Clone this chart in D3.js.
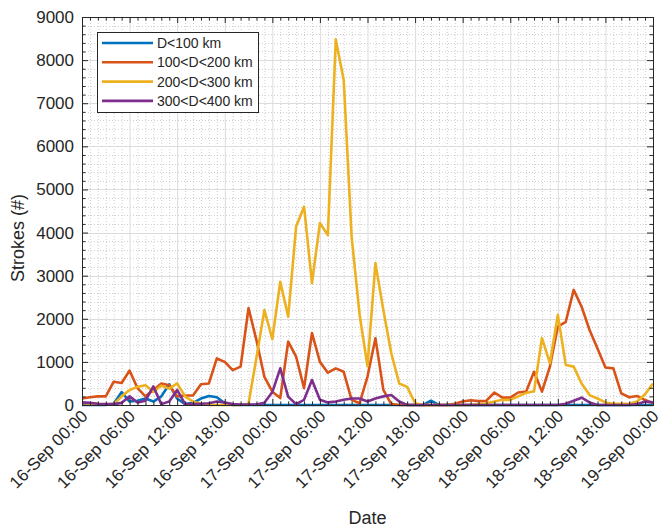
<!DOCTYPE html>
<html>
<head>
<meta charset="utf-8">
<script src="https://cdn.jsdelivr.net/npm/d3@7"></script>
<style>
  html, body { margin: 0; padding: 0; background: #fff; }
  svg { display: block; font-family: "Liberation Sans", Arial, sans-serif; }
</style>
</head>
<body>
<svg id="chart" width="665" height="528"></svg>
<script>
// ---- data (hourly, 16-Sep 00:00 .. 19-Sep 00:00) ----
const hours = d3.range(0, 73);
const seriesNames = ["D<100 km", "100<D<200 km", "200<D<300 km", "300<D<400 km"];
const seriesColors = ["#0072BD", "#D95319", "#EDB120", "#7E2F8E"];

const d100 = [0,0,0,0,30,300,80,100,150,80,200,480,150,20,50,150,210,180,40,0,
  0,0,0,0,0,0,0,0,0,0,0,0,0,0,0,0,0,0,0,0,
  0,0,0,0,100,0,0,0,0,0,0,0,0,0,0,0,0,0,0,0,
  0,0,0,0,0,0,0,0,0,0,0,0,0];
const d100_200 = [150,180,200,200,540,510,800,390,200,350,500,460,200,220,220,480,500,1080,1000,810,
  890,2250,1500,650,310,160,1470,1120,390,1670,1000,750,850,770,120,40,660,1550,350,20,
  0,0,0,0,0,0,0,30,80,110,90,100,290,170,170,290,310,770,310,890,
  1820,1930,2670,2280,1740,1310,870,850,270,180,210,115,40];
const d200_300 = [50,30,20,10,20,200,350,420,460,300,450,380,500,200,80,30,0,0,0,0,
  0,30,1100,2200,1530,2860,2050,4140,4600,2830,4220,3940,8480,7540,3900,2100,900,3290,2200,1200,
  500,420,40,0,0,0,0,0,0,0,20,40,80,120,120,200,280,320,1550,970,
  2090,930,890,500,230,150,60,30,30,30,80,250,500];
const d300_400 = [60,50,30,20,20,50,200,60,100,430,20,80,350,20,20,30,40,80,60,20,
  10,10,10,50,300,850,190,20,120,580,120,60,80,120,150,150,80,150,200,230,
  80,0,0,0,0,0,0,0,0,0,0,0,0,0,0,0,0,0,0,0,
  0,30,100,170,60,0,0,0,0,0,20,80,60];
const allSeries = [d100, d100_200, d200_300, d300_400];

const xTickHours = [0,6,12,18,24,30,36,42,48,54,60,66,72];
const xTickLabels = ["16-Sep 00:00","16-Sep 06:00","16-Sep 12:00","16-Sep 18:00",
  "17-Sep 00:00","17-Sep 06:00","17-Sep 12:00","17-Sep 18:00",
  "18-Sep 00:00","18-Sep 06:00","18-Sep 12:00","18-Sep 18:00","19-Sep 00:00"];
const yTicks = [0,1000,2000,3000,4000,5000,6000,7000,8000,9000];
const xLabel = "Date";
const yLabel = "Strokes (#)";

// ---- layout ----
const W = 665, H = 528;
const m = {left: 82, top: 17, right: 12, bottom: 123};
const pw = W - m.left - m.right, ph = H - m.top - m.bottom;
const axisColor = "#262626";

const svg = d3.select("#chart");
const g = svg.append("g").attr("transform", `translate(${m.left},${m.top})`);

const x = d3.scaleLinear().domain([0, 72]).range([0, pw]);
const y = d3.scaleLinear().domain([0, 9000]).range([ph, 0]);

// ---- grid ----
const minorX = d3.range(0, 73, 1).filter(h => h % 6 !== 0);
const minorY = d3.range(0, 9001, 200).filter(v => v % 1000 !== 0);
const grid = g.append("g");
grid.selectAll(".mgx").data(minorX).join("line")
  .attr("x1", d => x(d) + 0.5).attr("x2", d => x(d) + 0.5)
  .attr("y1", 0).attr("y2", ph)
  .attr("stroke", "#cfcfcf").attr("stroke-dasharray", "1,2").attr("stroke-width", 1);
grid.selectAll(".mgy").data(minorY).join("line")
  .attr("y1", d => Math.round(y(d)) + 0.5).attr("y2", d => Math.round(y(d)) + 0.5)
  .attr("x1", 0).attr("x2", pw)
  .attr("stroke", "#cfcfcf").attr("stroke-dasharray", "1,2").attr("stroke-width", 1);
grid.selectAll(".Mgx").data(xTickHours).join("line")
  .attr("x1", d => x(d) + 0.5).attr("x2", d => x(d) + 0.5)
  .attr("y1", 0).attr("y2", ph)
  .attr("stroke", "#dcdcdc").attr("stroke-width", 1);
grid.selectAll(".Mgy").data(yTicks).join("line")
  .attr("y1", d => Math.round(y(d)) + 0.5).attr("y2", d => Math.round(y(d)) + 0.5)
  .attr("x1", 0).attr("x2", pw)
  .attr("stroke", "#dcdcdc").attr("stroke-width", 1);

// ---- lines ----
const line = d3.line().x((d, i) => x(hours[i])).y(d => y(d));
allSeries.forEach((s, i) => {
  g.append("path").datum(s)
    .attr("d", line)
    .attr("fill", "none")
    .attr("stroke", seriesColors[i])
    .attr("stroke-width", 2.6)
    .attr("stroke-linejoin", "round");
});

// ---- axes (inside ticks, mirrored) ----
function styleAxis(sel) {
  sel.select(".domain").remove();
  sel.selectAll("line").attr("stroke", axisColor);
  sel.selectAll("text").attr("fill", axisColor);
}
const xAxisB = g.append("g").attr("transform", `translate(0,${ph})`)
  .call(d3.axisBottom(x).tickValues(xTickHours).tickSize(-6).tickFormat((d, i) => xTickLabels[i]));
styleAxis(xAxisB);
xAxisB.selectAll("text")
  .attr("font-size", 17)
  .attr("text-anchor", "end")
  .attr("transform", "translate(2,8) rotate(-45)")
  .attr("dy", "0.35em").attr("y", 0).attr("x", 0);

g.append("g").attr("transform", `translate(0,${ph})`)
  .call(d3.axisBottom(x).tickValues(minorX).tickSize(-3.5).tickFormat(""))
  .call(styleAxis);
g.append("g")
  .call(d3.axisTop(x).tickValues(xTickHours).tickSize(-6).tickFormat(""))
  .call(styleAxis);
g.append("g")
  .call(d3.axisTop(x).tickValues(minorX).tickSize(-3.5).tickFormat(""))
  .call(styleAxis);

const yAxisL = g.append("g")
  .call(d3.axisLeft(y).tickValues(yTicks).tickSize(-6).tickFormat(d3.format("d")));
styleAxis(yAxisL);
yAxisL.selectAll("text").attr("font-size", 17).attr("x", -8);
g.append("g").call(d3.axisLeft(y).tickValues(minorY).tickSize(-3.5).tickFormat("")).call(styleAxis);
g.append("g").attr("transform", `translate(${pw},0)`)
  .call(d3.axisRight(y).tickValues(yTicks).tickSize(-6).tickFormat("")).call(styleAxis);
g.append("g").attr("transform", `translate(${pw},0)`)
  .call(d3.axisRight(y).tickValues(minorY).tickSize(-3.5).tickFormat("")).call(styleAxis);

// box
g.append("rect").attr("x", 0.5).attr("y", 0.5).attr("width", pw).attr("height", ph)
  .attr("fill", "none").attr("stroke", axisColor).attr("stroke-width", 1);

// ---- labels ----
svg.append("text").attr("x", m.left + pw / 2).attr("y", 524)
  .attr("text-anchor", "middle").attr("font-size", 18).attr("fill", axisColor).text(xLabel);
svg.append("text").attr("transform", `translate(24,238) rotate(-90)`)
  .attr("text-anchor", "middle").attr("font-size", 18).attr("fill", axisColor).text(yLabel);

// ---- legend ----
const lg = svg.append("g").attr("transform", "translate(97,32)");
lg.append("rect").attr("x", 0.5).attr("y", 0.5).attr("width", 161).attr("height", 80)
  .attr("fill", "#fff").attr("stroke", axisColor).attr("stroke-width", 1);
seriesNames.forEach((name, i) => {
  const yy = 11 + i * 19.3;
  lg.append("line").attr("x1", 5).attr("x2", 56).attr("y1", yy).attr("y2", yy)
    .attr("stroke", seriesColors[i]).attr("stroke-width", 2.6);
  lg.append("text").attr("x", 60).attr("y", yy).attr("dy", "0.35em")
    .attr("font-size", 14).attr("fill", axisColor).text(name);
});
</script>
</body>
</html>
